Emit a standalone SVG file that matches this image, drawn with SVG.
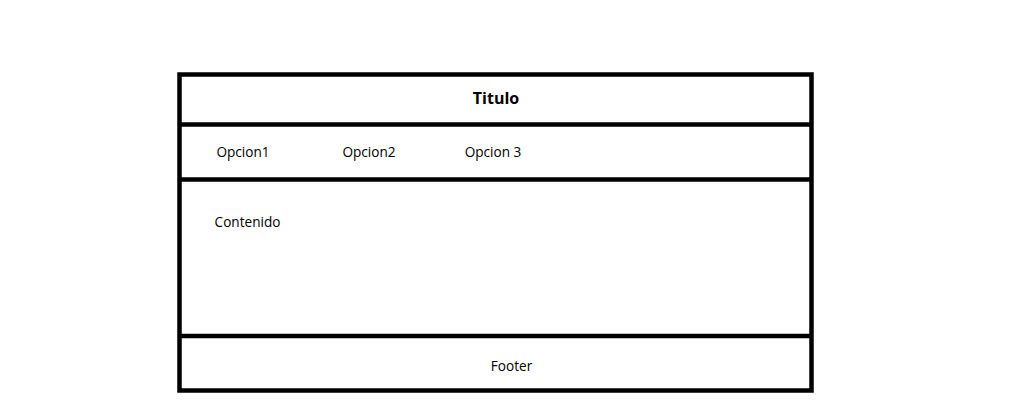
<svg xmlns="http://www.w3.org/2000/svg" width="1028" height="401" viewBox="0 0 1028 401">
<style>
.frame{fill:none;stroke:#000;stroke-width:4.5}
.t{font-family:"Open Sans","Noto Sans","Liberation Sans",sans-serif;font-size:13.6px;fill:#000;text-anchor:middle}
.b{font-weight:bold;font-size:16px}
</style>
<rect width="1028" height="401" fill="#fff"/>
<g id="frame">
<rect class="frame" x="179.5" y="74.5" width="632" height="316"/>
</g>
<g id="connectors">
<line class="frame" x1="179.5" y1="124.5" x2="811.5" y2="124.5"/>
<line class="frame" x1="179.5" y1="179.5" x2="811.5" y2="179.5"/>
<line class="frame" x1="179.5" y1="336" x2="811.5" y2="336"/>
</g>
<g id="titulo"><text class="t b" x="496" y="104">Titulo</text></g>
<g id="opcion1"><text class="t" x="243" y="157">Opcion1</text></g>
<g id="opcion2"><text class="t" x="369" y="157">Opcion2</text></g>
<g id="opcion3"><text class="t" x="493" y="157">Opcion 3</text></g>
<g id="contenido"><text class="t" x="247.5" y="227">Contenido</text></g>
<g id="footer"><text class="t" x="511.5" y="371">Footer</text></g>
</svg>
